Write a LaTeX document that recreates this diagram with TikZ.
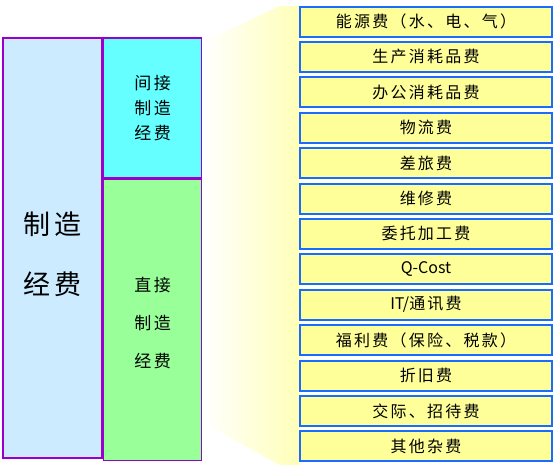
\documentclass[tikz,border=0pt]{standalone}
\usepackage{fontspec}
\setmainfont{Noto Sans CJK SC}
\newfontfamily\espaciada[LetterSpace=14]{Noto Sans CJK SC}
\usetikzlibrary{positioning}

\definecolor{morado}{HTML}{9900CC}
\definecolor{celeste}{HTML}{CCEBFF}
\definecolor{cian}{HTML}{66FFFF}
\definecolor{verde}{HTML}{99FF99}
\definecolor{amarillo}{HTML}{FFFF99}
\definecolor{azul}{HTML}{1A6CFF}

\tikzset{
    caja/.style={draw=morado, line width=1.6pt, inner sep=0pt, align=center,
        minimum width=98pt},
    rubro/.style={draw=azul, line width=2pt, fill=amarillo, inner sep=0pt,
        minimum width=252pt, minimum height=30pt,
        font=\espaciada\fontsize{16}{16}\selectfont}
}

\begin{document}
\begin{tikzpicture}[x=1pt, y=-1pt]
        \useasboundingbox (0,0) rectangle (556,469);

        % Dibuja la franja degradada entre ambas columnas.
        \shade[left color=white, right color=amarillo!70]
            (203,42) -- (280,6) -- (300,6) -- (300,465) -- (280,465)
            -- (203,423) -- cycle;

        % Define las cajas de la izquierda.
        \node[caja, fill=celeste, minimum width=99pt, minimum height=420pt,
            font=\espaciada\fontsize{27}{60}\selectfont] (total) at (52.5,248)
            {\rule{0pt}{36pt}制造\\经费};
        \node[caja, fill=cian, minimum height=140pt, anchor=north west,
            font=\espaciada\fontsize{17}{25}\selectfont] (indirecto)
            at (total.north east) {间接\\制造\\经费};
        \node[caja, fill=verde, minimum height=281pt, below=0pt of indirecto,
            font=\espaciada\fontsize{17}{38}\selectfont] (directo)
            {\rule{0pt}{20pt}直接\\制造\\经费};

        % Dibuja la lista de rubros.
        \foreach \texto [count=\i from 0] in {能源费（水、电、气）, 生产消耗品费,
            办公消耗品费, 物流费, 差旅费, 维修费, 委托加工费, {\normalfont Q-Cost},
            {\normalfont IT/}通讯费, 福利费（保险、税款）, 折旧费, 交际、招待费,
            其他杂费}
            \node[rubro] (r\i) at (426,{21.5+35.4*\i}) {\texto};
    \end{tikzpicture}
\end{document}
